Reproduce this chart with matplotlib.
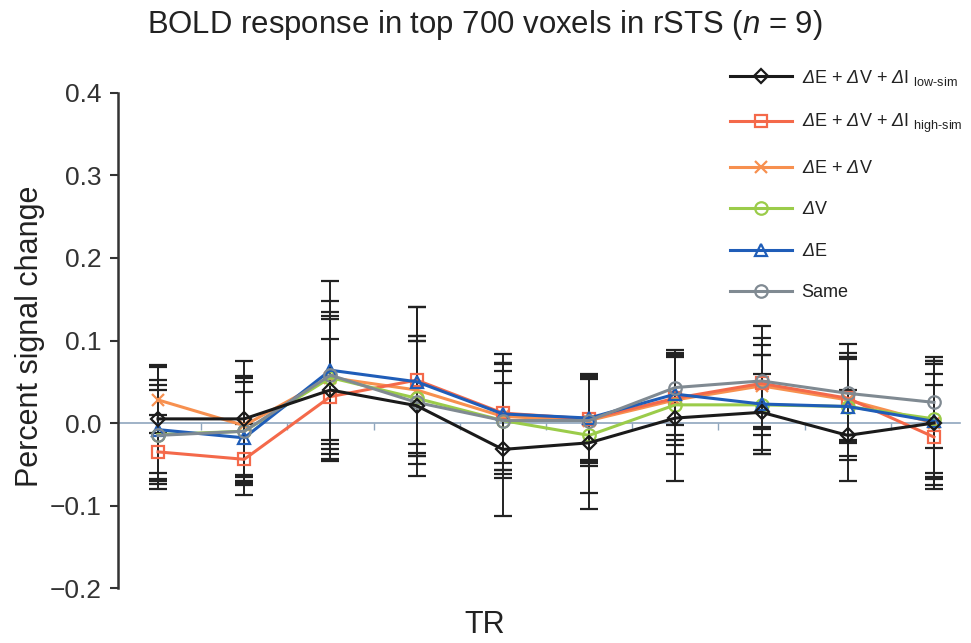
#!/usr/bin/env python3
"""BOLD response in top 700 voxels in rSTS: percent signal change per TR."""

import matplotlib
matplotlib.use("Agg")
import matplotlib.pyplot as plt
import numpy as np

plt.rcParams["font.family"] = ["Liberation Sans", "DejaVu Sans"]
plt.rcParams["mathtext.fontset"] = "custom"
plt.rcParams["mathtext.rm"] = "Liberation Sans"
plt.rcParams["mathtext.it"] = "Liberation Sans:italic"
# italic Greek capital: mathtext forces \mathit Greek capitals upright, so use sf slot
plt.rcParams["mathtext.sf"] = "Liberation Sans:italic"

tr = np.arange(1, 11)

low_sim = [0.005, 0.005, 0.040, 0.021, -0.032, -0.024, 0.006, 0.013, -0.015, 0.000]
low_sim_err = [0.065, 0.070, 0.086, 0.085, 0.081, 0.080, 0.076, 0.046, 0.055, 0.075]
high_sim = [-0.035, -0.044, 0.032, 0.052, 0.012, 0.005, 0.030, 0.048, 0.030, -0.017]
high_sim_err = [0.045, 0.043, 0.070, 0.088, 0.060, 0.050, 0.050, 0.055, 0.050, 0.063]
ev = [0.028, -0.003, 0.055, 0.040, 0.008, 0.003, 0.028, 0.045, 0.028, 0.000]
ev_err = [0.040, 0.060, 0.075, 0.065, 0.065, 0.055, 0.055, 0.050, 0.050, 0.060]
dv = [-0.014, -0.010, 0.055, 0.030, 0.003, -0.015, 0.022, 0.022, 0.020, 0.005]
dv_err = [0.060, 0.065, 0.080, 0.070, 0.070, 0.070, 0.060, 0.060, 0.060, 0.070]
de = [-0.008, -0.018, 0.064, 0.050, 0.011, 0.006, 0.035, 0.023, 0.020, 0.002]
de_err = [0.060, 0.055, 0.108, 0.090, 0.073, 0.054, 0.050, 0.060, 0.065, 0.070]
same = [-0.015, -0.010, 0.058, 0.025, 0.003, 0.003, 0.043, 0.051, 0.036, 0.025]
same_err = [0.055, 0.060, 0.090, 0.075, 0.060, 0.050, 0.045, 0.066, 0.060, 0.055]

D = r"$\mathsf{Δ}$"
series = [
    (D + "E + " + D + "V + " + D + r"I $_{\mathregular{low‐sim}}$", low_sim, low_sim_err,
     "#1a1a1a", "D", 7),
    (D + "E + " + D + "V + " + D + r"I $_{\mathregular{high‐sim}}$", high_sim, high_sim_err,
     "#f4694a", "s", 8),
    (D + "E + " + D + "V", ev, ev_err, "#f7904f", "x", 9),
    (D + "V", dv, dv_err, "#9bcc4a", "o", 9),
    (D + "E", de, de_err, "#1f5db8", "^", 9),
    ("Same", same, same_err, "#808a92", "o", 9),
]

fig = plt.figure(figsize=(9.71, 6.43), dpi=100)
ax = fig.add_axes([0.1215, 0.0855, 0.867, 0.7699])

for label, vals, errs, color, marker, ms in series:
    ax.errorbar(tr, vals, yerr=errs, fmt="none", ecolor="#222222",
                elinewidth=1.4, capsize=6.5, capthick=1.6, zorder=2)

z = {0: 9, 1: 5, 2: 4, 3: 6, 4: 7, 5: 8}
for i, (label, vals, errs, color, marker, ms) in enumerate(series):
    ax.plot(tr, vals, color=color, lw=2.2, marker=marker, ms=ms,
            mfc="none", mec=color, mew=1.6, label=label, zorder=z[i])

ax.set_xlim(0.536, 10.3)
ax.set_ylim(-0.2, 0.4)
ax.set_yticks([-0.2, -0.1, 0.0, 0.1, 0.2, 0.3, 0.4])
ax.set_yticklabels(["\u22120.2", "\u22120.1", "0.0", "0.1", "0.2", "0.3", "0.4"])
ax.tick_params(axis="y", labelsize=19, length=6, width=1.5, color="#333333",
               pad=6, labelcolor="#333333")

ax.spines["top"].set_visible(False)
ax.spines["right"].set_visible(False)
ax.spines["left"].set_linewidth(1.8)
ax.spines["left"].set_color("#333333")
ax.spines["bottom"].set_position(("data", 0))
ax.spines["bottom"].set_color("#8fa6bd")
ax.spines["bottom"].set_linewidth(1.2)
ax.spines["bottom"].set_zorder(1)
ax.set_xticks(np.arange(1.5, 10.0, 1.0))
ax.tick_params(axis="x", length=5, width=1.0, color="#8fa6bd", labelbottom=False)

fig.text(0.4995, 1 - 25 / 643, "BOLD response in top 700 voxels in rSTS ($\\mathit{n}$ = 9)",
         ha="center", va="center", fontsize=22.4, color="#222222")
fig.text(0.031, 1 - 336 / 643, "Percent signal change", rotation=90,
         ha="center", va="center", fontsize=22, color="#222222")
fig.text(0.4995, 1 - 625 / 643, "TR", ha="center", va="center",
         fontsize=22, color="#222222")

leg = ax.legend(loc="upper left", bbox_to_anchor=(0.752, 0.895),
                bbox_transform=fig.transFigure, frameon=False, fontsize=13,
                handlelength=3.4, handletextpad=0.55, labelspacing=1.36,
                borderpad=0, borderaxespad=0)
for t in leg.get_texts():
    t.set_color("#222222")

fig.savefig("out.png", dpi=100)
